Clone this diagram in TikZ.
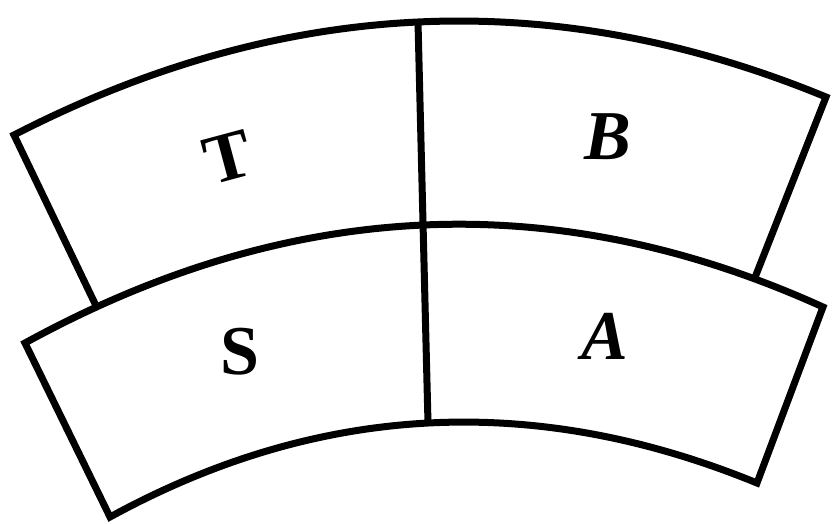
\documentclass[tikz,border=0pt]{standalone}
\usepackage{fontspec}
\setmainfont{Liberation Serif}
\usetikzlibrary{intersections}
\begin{document}
\begin{tikzpicture}[x=1pt,y=-1pt,
  edge/.style={draw=black, line width=7pt, line join=miter, line cap=butt},
  lab/.style={font=\fontsize{70}{70}\selectfont\bfseries, inner sep=0pt},
  itlab/.style={lab, font=\fontsize{70}{70}\selectfont\bfseries\itshape}]
\useasboundingbox (0,0) rectangle (836,523);
% lower band
\coordinate (la) at (25,343);
\coordinate (lb) at (823,307);
\coordinate (lc) at (757,483);
\coordinate (ld) at (110,517);
\coordinate (bm) at (428,423);
\path[name path=lowout] (la) .. controls (289.7,197.7) and (555.7,185.7) .. (lb);
\draw[edge] (la) .. controls (289.7,197.7) and (555.7,185.7) .. (lb)
  -- (lc) .. controls (534,391.7) and (318.3,403) .. (ld) -- cycle;
% upper band
\coordinate (ta) at (14,135);
\coordinate (tb) at (826,97);
\coordinate (tm) at (418,22);
\path[name path=ledge] (ta) -- (111,337);
\path[name path=redge] (tb) -- (741,313);
\path[name intersections={of=ledge and lowout, by=li}];
\path[name intersections={of=redge and lowout, by=ri}];
\draw[edge] (li) -- (ta) .. controls (282,-3) and (552.7,-15.7) .. (tb) -- (ri);
% divider
\draw[edge] (tm) -- (bm);
% labels
\node[lab, rotate=15] (T) at (228,157) {T};
\node[itlab] (B) at (608,137) {B};
\node[lab] (S) at (240,352) {S};
\node[itlab] (A) at (605,336) {A};
\end{tikzpicture}
\end{document}
